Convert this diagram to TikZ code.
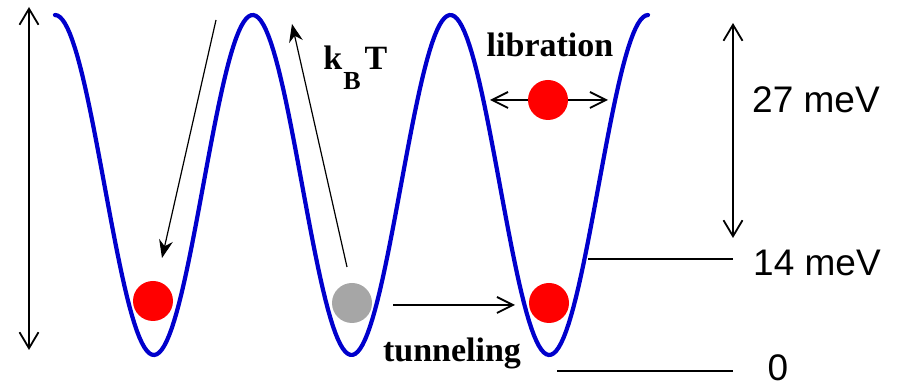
\documentclass[tikz,border=0pt]{standalone}
\usepackage{fontspec}
\setmainfont{Liberation Serif}
\newfontfamily\arialfont{Liberation Sans}
\usetikzlibrary{arrows.meta}
\definecolor{wellblue}{RGB}{0,0,204}
\definecolor{ballgrey}{RGB}{166,166,166}

\begin{document}
\begin{tikzpicture}[x=0.5pt, y=-0.5pt,
  well/.style={wellblue, line width=2.1pt, line cap=round},
  ball/.style={circle, fill=red, minimum size=20pt, inner sep=0pt},
  dbl/.style={{Straight Barb[length=8pt, width=9.5pt]}-{Straight Barb[length=8pt, width=9.5pt]}, line width=0.9pt},
  arr/.style={-{Straight Barb[length=8pt, width=8pt]}, line width=0.9pt},
  hop/.style={-{Stealth[length=9pt, width=7pt, inset=3pt]}, line width=0.6pt},
  lvl/.style={line width=0.9pt},
  lbl/.style={font=\bfseries\fontsize{17}{17}\selectfont},
  mev/.style={font=\arialfont\fontsize{18.5}{18.5}\selectfont}
]
\useasboundingbox (0,0) rectangle (901,389);

% potential
\draw[well] plot[domain=55:648, samples=240] (\x, {185-170*cos(((\x-55)/197.7)*360)});

% molecules
\node[ball] (left) at (153,301) {};
\node[ball, fill=ballgrey] (mid) at (352,303) {};
\node[ball] (right) at (549,303) {};
\node[ball] (lib) at (548,100) {};

% total barrier
\coordinate (bartop) at (29,7);
\coordinate (barbot) at (29,350);
\draw[dbl] (bartop) -- (barbot);

% thermal hopping
\coordinate (dnstart) at (216,20);
\coordinate (dnend) at (162,258);
\draw[hop] (dnstart) -- (dnend);
\coordinate (upstart) at (347,267);
\coordinate (upend) at (292,24);
\draw[hop] (upstart) -- (upend);
\node[lbl, anchor=base west, inner sep=0pt] (kT) at (323,70)
  {k\kern0.5pt\raisebox{-10pt}{\fontsize{13}{13}\selectfont B}\kern2pt T};

% libration
\node[lbl, anchor=base] (libtxt) at (550,57) {libration};
\coordinate (libL) at (490,100);
\coordinate (libR) at (608,100);
\draw[arr] (lib) -- (libL);
\draw[arr] (lib) -- (libR);

% tunneling
\coordinate (tunA) at (393,305);
\coordinate (tunB) at (515,305);
\draw[arr] (tunA) -- (tunB);
\node[lbl, anchor=base] (tuntxt) at (452,362) {tunneling};

% energy scale
\coordinate (lvA) at (733,23);
\coordinate (lvB) at (733,238);
\draw[dbl] (lvA) -- (lvB);
\node[mev] (e27) at (816,100) {27 meV};
\coordinate (l14a) at (588,259);
\coordinate (l14b) at (733,259);
\draw[lvl] (l14a) -- (l14b);
\node[mev] (e14) at (817,263) {14 meV};
\coordinate (l0a) at (557,371);
\coordinate (l0b) at (733,371);
\draw[lvl] (l0a) -- (l0b);
\node[mev, inner sep=0pt] (e0) at (778,368) {0};
\end{tikzpicture}
\end{document}
